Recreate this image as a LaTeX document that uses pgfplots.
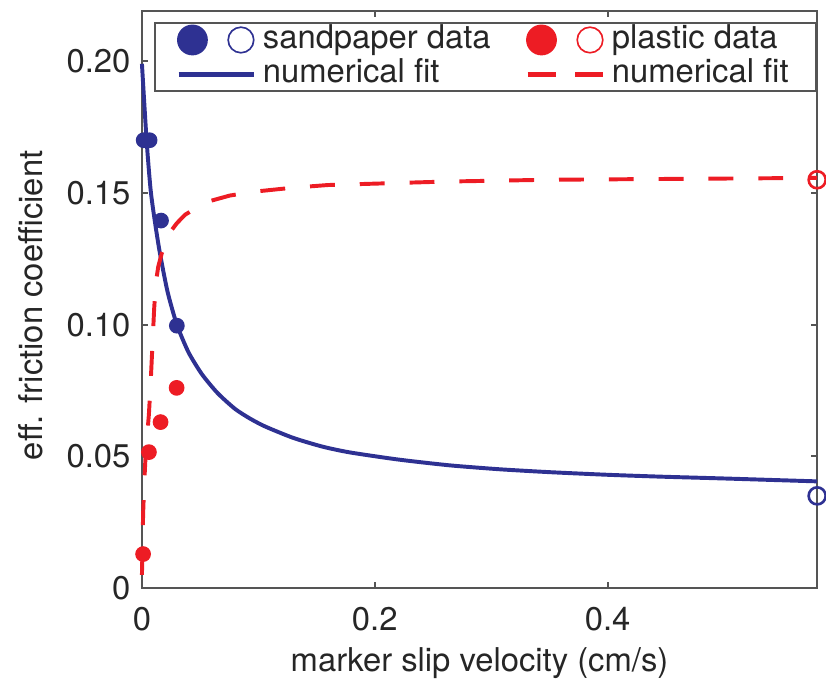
\documentclass[border=0pt]{standalone}
\usepackage{fontspec}
\setmainfont{TeX Gyre Heros}
\usepackage{pgfplots}
\pgfplotsset{compat=1.18}
\definecolor{sandBlue}{HTML}{2E3192}
\definecolor{plasticRed}{HTML}{ED1C24}
\definecolor{frameGray}{HTML}{555555}
\definecolor{labelInk}{HTML}{262626}

\begin{document}
\begin{tikzpicture}
\begin{axis}[
	scale only axis, width=206pt, height=176pt,
	xmin=0, xmax=0.58, ymin=0, ymax=0.219,
	xtick={0,0.2,0.4}, xticklabels={0,0.2,0.4},
	ytick={0,0.05,0.1,0.15,0.2}, yticklabels={0,0.05,0.10,0.15,0.20},
	tick pos=both, tick align=inside, major tick length=1.8pt,
	axis line style={frameGray, line width=0.6pt},
	every tick/.style={frameGray, line width=0.6pt},
	tick label style={text=labelInk},
	xticklabel style={anchor=base, yshift=-13pt},
	xlabel={marker slip velocity (cm/s)},
	ylabel={eff. friction coefficient},
	every axis x label/.style={at={(axis description cs:0.5,0)}, anchor=base, yshift=-25.5pt, text=labelInk},
	every axis y label/.style={at={(axis description cs:-0.165,0.49)}, rotate=90, anchor=center, text=labelInk},
	clip=false,
	legend columns=2,
	legend cell align=left,
	legend style={at={(rel axis cs:0.018,0.981)}, anchor=north west,
		draw=frameGray, line width=0.6pt,
		inner xsep=6.4pt, inner ysep=0.2pt, row sep=0.6pt,
		nodes={inner xsep=1.9pt, inner ysep=0.3pt, text height=7.2pt, text depth=2.1pt, text=labelInk},
		/tikz/column 2/.style={column sep=8.6pt}},
]
% numerical fits
\addplot[forget plot, sandBlue, line width=1.2pt, smooth, tension=0.4] coordinates {
	(0,0.199) (0.004,0.170) (0.0075,0.151) (0.0115,0.138) (0.0155,0.127)
	(0.022,0.1125) (0.030,0.100) (0.040,0.0895) (0.0515,0.0812) (0.065,0.0740)
	(0.080,0.0680) (0.093,0.0643) (0.106,0.0613) (0.13,0.0570) (0.155,0.0537)
	(0.1785,0.0515) (0.22,0.0488) (0.264,0.0466) (0.307,0.0451) (0.35,0.0440)
	(0.40,0.0430) (0.445,0.0423) (0.50,0.0416) (0.58,0.0405)};
\addplot[forget plot, plasticRed, line width=1.2pt, dash pattern=on 7.6pt off 7.6pt] coordinates {
	(0,0.005) (0.0005,0.015) (0.001,0.028) (0.002,0.040) (0.003,0.049)
	(0.0045,0.058) (0.006,0.066) (0.0075,0.078) (0.009,0.092) (0.0105,0.106)
	(0.012,0.116) (0.014,0.122) (0.017,0.127) (0.024,0.135) (0.030,0.1385)
	(0.037,0.1417) (0.055,0.1465) (0.0755,0.149) (0.097,0.1505) (0.13,0.152)
	(0.16,0.153) (0.26,0.1543) (0.35,0.1550) (0.45,0.1553) (0.58,0.1557)};
% data
\addplot[forget plot, only marks, mark=*, mark size=2.2pt, sandBlue] coordinates {
	(0.0015,0.170) (0.0066,0.170) (0.0164,0.1395) (0.030,0.0996)};
\addplot[forget plot, only marks, mark=*, mark size=2.2pt, plasticRed] coordinates {
	(0.001,0.0129) (0.006,0.0516) (0.016,0.063) (0.0298,0.076)};
\addplot[forget plot, only marks, mark=o, mark size=2.6pt, line width=0.8pt, sandBlue] coordinates {(0.58,0.035)};
\addplot[forget plot, only marks, mark=o, mark size=2.6pt, line width=0.8pt, plasticRed] coordinates {(0.58,0.155)};

\addlegendimage{legend image code/.code={
	\fill[sandBlue] (4.2pt,0) circle (4.4pt);
	\draw[sandBlue, line width=0.5pt] (19pt,0) circle (3.9pt);}}
\addlegendentry{sandpaper data}
\addlegendimage{legend image code/.code={
	\fill[plasticRed] (4.2pt,0) circle (4.4pt);
	\draw[plasticRed, line width=0.5pt] (19pt,0) circle (3.9pt);}}
\addlegendentry{plastic data}
\addlegendimage{legend image code/.code={
	\draw[sandBlue, line width=1.6pt] (0,0) -- (23pt,0);}}
\addlegendentry{numerical fit}
\addlegendimage{legend image code/.code={
	\draw[plasticRed, line width=1.6pt] (0,0) -- (8.5pt,0) (14.5pt,0) -- (23pt,0);}}
\addlegendentry{numerical fit}
\end{axis}
\path (current axis.south west) ++(-43.3pt,-28.4pt);
\path (current axis.north east) ++(2.7pt,3.4pt);
\end{tikzpicture}
\end{document}
